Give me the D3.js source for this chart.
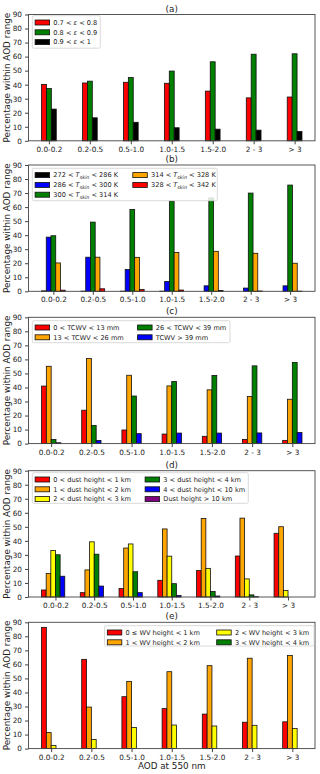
<!DOCTYPE html>
<html>
<head>
<meta charset="utf-8">
<script src="https://cdn.jsdelivr.net/npm/d3@7"></script>
<style>
    body { margin: 0; background: #fff; }
    svg text { font-family: "DejaVu Sans", sans-serif; fill: #222; }
    .axis path, .axis line { stroke: #444; }
</style>
</head>
<body>
<div id="chart"></div>
<script>
// AOD bins on the x axis
const aodBins = ["0.0-0.2", "0.2-0.5", "0.5-1.0", "1.0-1.5", "1.5-2.0", "2 - 3", "> 3"];
const yTicks = [0, 10, 20, 30, 40, 50, 60, 70, 80, 90];

// (a) emissivity
const emisLabels = ["0.7 < ε < 0.8", "0.8 < ε < 0.9", "0.9 < ε < 1"];
const emis1 = [40.2, 41.2, 41.7, 41.0, 35.4, 30.6, 31.2];
const emis2 = [37.2, 42.5, 45.1, 49.7, 56.3, 61.7, 62.0];
const emis3 = [22.6, 16.4, 13.2, 9.3, 8.3, 7.6, 6.7];

// (b) skin temperature
const tskinLabels = ["272 < T_skin < 286 K", "286 < T_skin < 300 K", "300 < T_skin < 314 K",
    "314 < T_skin < 328 K", "328 < T_skin < 342 K"];
const tskin1 = [0.3, 0.1, 0.1, 0.1, 0.0, 0.0, 0.0];
const tskin2 = [38.6, 24.3, 15.6, 7.0, 3.9, 2.3, 3.9];
const tskin3 = [39.6, 49.3, 58.3, 64.3, 66.6, 70.0, 75.7];
const tskin4 = [20.2, 24.3, 24.2, 27.6, 28.5, 27.1, 20.0];
const tskin5 = [0.8, 1.8, 1.3, 0.9, 0.5, 0.2, 0.1];

// (c) total column water vapour
const tcwvLabels = ["0 < TCWV < 13 mm", "13 < TCWV < 26 mm", "26 < TCWV < 39 mm", "TCWV > 39 mm"];
const tcwv1 = [41.0, 23.8, 9.7, 6.8, 5.2, 3.0, 2.3];
const tcwv2 = [55.1, 60.6, 48.7, 41.1, 38.3, 33.6, 31.6];
const tcwv3 = [2.9, 12.9, 33.9, 44.2, 48.6, 55.4, 57.8];
const tcwv4 = [0.6, 2.2, 7.1, 7.5, 7.5, 7.6, 7.9];

// (d) dust height
const dustLabels = ["0 < dust height < 1 km", "1 < dust height < 2 km", "2 < dust height < 3 km",
    "3 < dust height < 4 km", "4 < dust height < 10 km", "Dust height > 10 km"];
const dust1 = [5.0, 3.1, 6.0, 11.9, 18.8, 29.2, 45.4];
const dust2 = [16.8, 19.3, 34.9, 48.5, 56.0, 56.2, 50.1];
const dust3 = [33.1, 39.3, 37.8, 29.1, 20.4, 12.9, 4.6];
const dust4 = [30.1, 30.5, 18.0, 9.5, 3.9, 1.5, 0.0];
const dust5 = [14.8, 7.8, 3.1, 1.1, 0.7, 0.2, 0.0];
const dust6 = [0.0, 0.0, 0.0, 0.0, 0.0, 0.0, 0.0];

// (e) water vapour height
const wvLabels = ["0 ≤ WV height < 1 km", "1 < WV height < 2 km", "2 < WV height < 3 km", "3 < WV height < 4 km"];
const wv1 = [86.4, 63.6, 37.0, 28.5, 24.6, 18.8, 19.1];
const wv2 = [11.4, 29.6, 47.9, 54.8, 59.1, 64.4, 66.3];
const wv3 = [2.3, 6.5, 15.1, 16.8, 16.1, 16.6, 14.3];
const wv4 = [0.0, 0.0, 0.0, 0.0, 0.0, 0.0, 0.0];

const width = 320, height = 774;
const plotLeft = 28.5, plotRight = 315, plotHeight = 126.3;
const barWidth = 0.12;

const panels = [
    {
        title: "(a)", top: 14.5,
        labels: emisLabels, series: [emis1, emis2, emis3],
        colors: ["#ff0000", "#008000", "#000000"],
        legend: { x: 32.3, y: 15.7, w: 68, h: 32.5, cols: [[0, 1, 2]], colX: [0] }
    },
    {
        title: "(b)", top: 165,
        labels: tskinLabels, series: [tskin1, tskin2, tskin3, tskin4, tskin5],
        colors: ["#000000", "#0000ff", "#008000", "#ffa500", "#ff0000"],
        legend: { x: 32.3, y: 168.3, w: 185, h: 32.4, cols: [[0, 1, 2], [3, 4]], colX: [0, 97.7] }
    },
    {
        title: "(c)", top: 317.3,
        labels: tcwvLabels, series: [tcwv1, tcwv2, tcwv3, tcwv4],
        colors: ["#ff0000", "#ffa500", "#008000", "#0000ff"],
        legend: { x: 32.3, y: 320.7, w: 197.7, h: 22, cols: [[0, 1], [2, 3]], colX: [0, 102.5] }
    },
    {
        title: "(d)", top: 470.7,
        labels: dustLabels, series: [dust1, dust2, dust3, dust4, dust5, dust6],
        colors: ["#ff0000", "#ffa500", "#ffff00", "#008000", "#0000ff", "#800080"],
        legend: { x: 32.3, y: 472.7, w: 216, h: 30.6, cols: [[0, 1, 2], [3, 4, 5]], colX: [0, 110] }
    },
    {
        title: "(e)", top: 622.3,
        labels: wvLabels, series: [wv1, wv2, wv3, wv4],
        colors: ["#ff0000", "#ffa500", "#ffff00", "#008000"],
        legend: { x: 104.5, y: 625.7, w: 209.5, h: 20.3, cols: [[0, 1], [2, 3]], colX: [0, 109.4] }
    }
];

const svg = d3.select("#chart").append("svg")
    .attr("width", width)
    .attr("height", height);

// legend text, with T_skin written as italic T and subscript
function writeLabel(text, label) {
    const parts = label.split("T_skin");
    if (parts.length > 1) {
        text.append("tspan").text(parts[0]);
        text.append("tspan").attr("font-style", "italic").text("T");
        text.append("tspan").attr("font-size", "4.8px").attr("font-style", "italic").attr("dy", 1.6).text("skin");
        text.append("tspan").attr("dy", -1.6).text(parts[1]);
        return;
    }
    const eps = label.split("ε");
    if (eps.length > 1) {
        text.append("tspan").text(eps[0]);
        text.append("tspan").attr("font-style", "italic").text("ε");
        text.append("tspan").text(eps[1]);
        return;
    }
    text.text(label);
}

function drawPanel(p) {
    const n = p.series.length;
    const margin = 0.05 * (6 + n * barWidth);
    const xScale = d3.scaleLinear()
        .domain([-barWidth / 2 - margin, 6 + (n - 0.5) * barWidth + margin])
        .range([plotLeft, plotRight]);
    const yScale = d3.scaleLinear()
        .domain([0, 90])
        .range([p.top + plotHeight, p.top]);

    const g = svg.append("g");

    // bars
    p.series.forEach((values, j) => {
        g.append("g").selectAll("rect")
            .data(values)
            .join("rect")
            .attr("x", (d, i) => xScale(i + j * barWidth - barWidth / 2))
            .attr("width", xScale(barWidth) - xScale(0))
            .attr("y", d => yScale(d))
            .attr("height", d => yScale(0) - yScale(d))
            .attr("fill", p.colors[j])
            .attr("stroke", "#111")
            .attr("stroke-width", 0.8);
    });

    // axes
    const xAxis = d3.axisBottom(xScale)
        .tickValues(d3.range(7).map(i => i + (n - 1) * barWidth / 2))
        .tickFormat((d, i) => aodBins[i])
        .tickSize(3.5).tickPadding(2.5);
    g.append("g").classed("axis", true)
        .attr("transform", `translate(0, ${p.top + plotHeight})`)
        .call(xAxis)
        .call(a => a.select(".domain").remove())
        .selectAll("text").attr("font-size", "7.3px").attr("font-family", "DejaVu Sans");

    const yAxis = d3.axisLeft(yScale).tickValues(yTicks).tickSize(3.5).tickPadding(3);
    g.append("g").classed("axis", true)
        .attr("transform", `translate(${plotLeft}, 0)`)
        .call(yAxis)
        .call(a => a.select(".domain").remove())
        .selectAll("text").attr("font-size", "7.3px").attr("font-family", "DejaVu Sans");

    // frame
    g.append("rect")
        .attr("x", plotLeft).attr("y", p.top)
        .attr("width", plotRight - plotLeft).attr("height", plotHeight)
        .attr("fill", "none").attr("stroke", "#444").attr("stroke-width", 0.9);

    // title and y label
    g.append("text")
        .attr("x", (plotLeft + plotRight) / 2).attr("y", p.top - 3)
        .attr("text-anchor", "middle").attr("font-size", "8.8px")
        .text(p.title);
    g.append("text")
        .attr("transform", `translate(9.5, ${p.top + plotHeight / 2}) rotate(-90)`)
        .attr("text-anchor", "middle").attr("font-size", "8.8px")
        .text("Percentage within AOD range");

    // legend
    const L = p.legend;
    const lg = g.append("g").attr("transform", `translate(${L.x}, ${L.y})`);
    lg.append("rect")
        .attr("width", L.w).attr("height", L.h).attr("rx", 1.5)
        .attr("fill", "#fff").attr("fill-opacity", 0.85)
        .attr("stroke", "#d0d0d0").attr("stroke-width", 0.8);
    L.cols.forEach((col, c) => {
        col.forEach((k, r) => {
            const cy = 6.8 + r * 9.8;
            lg.append("rect")
                .attr("x", L.colX[c] + 2.8).attr("y", cy - 2.5)
                .attr("width", 14.5).attr("height", 5)
                .attr("fill", p.colors[k]).attr("stroke", "#111").attr("stroke-width", 0.8);
            const t = lg.append("text")
                .attr("x", L.colX[c] + 21).attr("y", cy + 2.4)
                .attr("font-size", "6.6px");
            writeLabel(t, p.labels[k]);
        });
    });
}

panels.forEach(drawPanel);

svg.append("text")
    .attr("x", (plotLeft + plotRight) / 2).attr("y", 769)
    .attr("text-anchor", "middle").attr("font-size", "8.8px")
    .text("AOD at 550 nm");
</script>
</body>
</html>
